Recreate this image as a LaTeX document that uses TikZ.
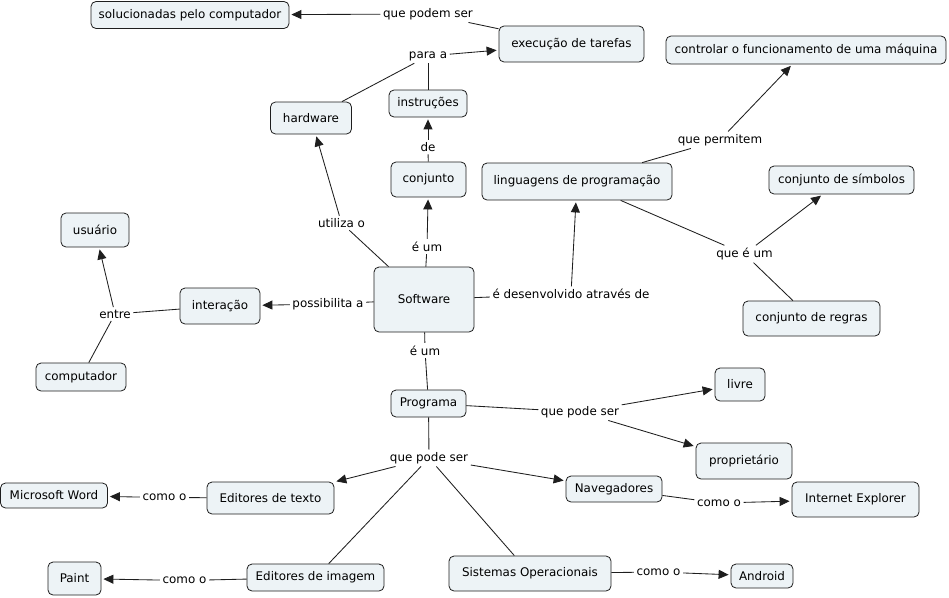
\documentclass[tikz,border=0pt]{standalone}
\usepackage{fontspec}
\setmainfont{DejaVu Sans}
\usetikzlibrary{arrows.meta}
\definecolor{boxfill}{RGB}{237,243,246}
\definecolor{edge}{RGB}{30,30,30}
\tikzset{
  cbox/.style={draw=edge, line width=0.8pt, rounded corners=5pt, fill=boxfill, inner sep=0pt, align=center, font=\fontsize{11.9}{14}\selectfont},
  lbl/.style={inner sep=2.5pt, font=\fontsize{11.9}{14}\selectfont},
  ln/.style={draw=edge, line width=0.85pt},
  arr/.style={draw=edge, line width=0.85pt, -{Triangle[length=10pt,width=9pt]}, shorten >=2pt},
}
\begin{document}
\begin{tikzpicture}[x=1pt,y=-1pt]
\useasboundingbox (0,0) rectangle (949,597);
% concept boxes
\node[cbox, minimum width=198pt, minimum height=27pt] (sol) at (190,15) {solucionadas pelo computador};
\node[cbox, minimum width=145pt, minimum height=36pt] (exe) at (571.5,44) {execução de tarefas};
\node[cbox, minimum width=280pt, minimum height=28pt] (ctl) at (806,50) {controlar o funcionamento de uma máquina};
\node[cbox, minimum width=81pt, minimum height=32pt] (hw) at (311,118) {hardware};
\node[cbox, minimum width=78pt, minimum height=27pt] (ins) at (428,103.5) {instruções};
\node[cbox, minimum width=75pt, minimum height=35pt] (cnj) at (428.5,179.5) {conjunto};
\node[cbox, minimum width=190pt, minimum height=37pt] (lng) at (577,181.5) {linguagens de programação};
\node[cbox, minimum width=145pt, minimum height=28pt] (sim) at (841.5,180) {conjunto de símbolos};
\node[cbox, minimum width=137pt, minimum height=35pt] (reg) at (811.5,318.5) {conjunto de regras};
\node[cbox, minimum width=68pt, minimum height=34pt] (usu) at (95,230) {usuário};
\node[cbox, minimum width=80pt, minimum height=36pt] (int) at (220,306) {interação};
\node[cbox, minimum width=100pt, minimum height=65pt] (sw) at (424,299.5) {Software};
\node[cbox, minimum width=90pt, minimum height=28pt] (cmp) at (81,377) {computador};
\node[cbox, minimum width=75pt, minimum height=27pt] (prg) at (428.5,403.5) {Programa};
\node[cbox, minimum width=107pt, minimum height=25pt] (msw) at (54,495.5) {Microsoft Word};
\node[cbox, minimum width=127pt, minimum height=32pt] (edt) at (270.5,498) {Editores de texto};
\node[cbox, minimum width=53pt, minimum height=33pt] (pnt) at (74.5,578.5) {Paint};
\node[cbox, minimum width=137pt, minimum height=27pt] (edi) at (315.5,577.5) {Editores de imagem};
\node[cbox, minimum width=50pt, minimum height=33pt] (liv) at (740,384.5) {livre};
\node[cbox, minimum width=96pt, minimum height=36pt] (pro) at (744,461) {proprietário};
\node[cbox, minimum width=96pt, minimum height=26pt] (nav) at (614,489) {Navegadores};
\node[cbox, minimum width=127pt, minimum height=35pt] (iex) at (855.5,499.5) {Internet Explorer};
\node[cbox, minimum width=162pt, minimum height=35pt] (sis) at (530,573.5) {Sistemas Operacionais};
\node[cbox, minimum width=62pt, minimum height=24pt] (and) at (762,576) {Android};
% linking phrases
\node[lbl] (lqps) at (428,14) {que podem ser};
\node[lbl] (lpar) at (428,56) {para a};
\node[lbl] (lde) at (428,147) {de};
\node[lbl] (luti) at (341.5,223) {utiliza o};
\node[lbl] (leu1) at (427,246.5) {é um};
\node[lbl] (lpos) at (328,304) {possibilita a};
\node[lbl] (lent) at (115,314) {entre};
\node[lbl] (leu2) at (425,350.5) {é um};
\node[lbl] (ldes) at (571,294) {é desenvolvido através de};
\node[lbl] (lper) at (720,140) {que permitem};
\node[lbl] (lqeu) at (744.5,254) {que é um};
\node[lbl] (lqr) at (580,412) {que pode ser};
\node[lbl] (lql) at (429,458) {que pode ser};
\node[lbl] (lca) at (164.5,497.5) {como o};
\node[lbl] (lcb) at (719,503) {como o};
\node[lbl] (lcc) at (184.5,580.5) {como o};
\node[lbl] (lcd) at (658.5,572) {como o};
% connectors
\draw[ln] (exe) -- (lqps);
\draw[arr] (lqps) -- (sol);
\draw[ln] (hw) -- (lpar);
\draw[ln] (ins) -- (lpar);
\draw[arr] (lpar) -- (exe);
\draw[ln] (cnj) -- (lde);
\draw[arr] (lde) -- (ins);
\draw[ln] (sw) -- (luti);
\draw[arr] (luti) -- (hw);
\draw[ln] (sw) -- (leu1);
\draw[arr] (leu1) -- (cnj);
\draw[ln] (sw) -- (lpos);
\draw[arr] (lpos) -- (int);
\draw[ln] (int) -- (lent);
\draw[arr] (lent) -- (usu);
\draw[ln] (cmp) -- (lent);
\draw[ln] (sw) -- (ldes);
\draw[arr] (ldes) -- (lng);
\draw[ln] (lng) -- (lper);
\draw[arr] (lper) -- (ctl);
\draw[ln] (lng) -- (lqeu);
\draw[ln] (reg) -- (lqeu);
\draw[arr] (lqeu) -- (sim);
\draw[ln] (sw) -- (leu2);
\draw[ln] (leu2) -- (prg);
\draw[ln] (prg) -- (lqr);
\draw[arr] (lqr) -- (liv);
\draw[arr] (lqr) -- (pro);
\draw[ln] (prg) -- (lql);
\draw[arr] (lql) -- (edt);
\draw[arr] (lql) -- (nav);
\draw[ln] (lql) -- (edi);
\draw[ln] (lql) -- (sis);
\draw[ln] (edt) -- (lca);
\draw[arr] (lca) -- (msw);
\draw[ln] (nav) -- (lcb);
\draw[arr] (lcb) -- (iex);
\draw[ln] (edi) -- (lcc);
\draw[arr] (lcc) -- (pnt);
\draw[ln] (sis) -- (lcd);
\draw[arr] (lcd) -- (and);
\end{tikzpicture}
\end{document}
